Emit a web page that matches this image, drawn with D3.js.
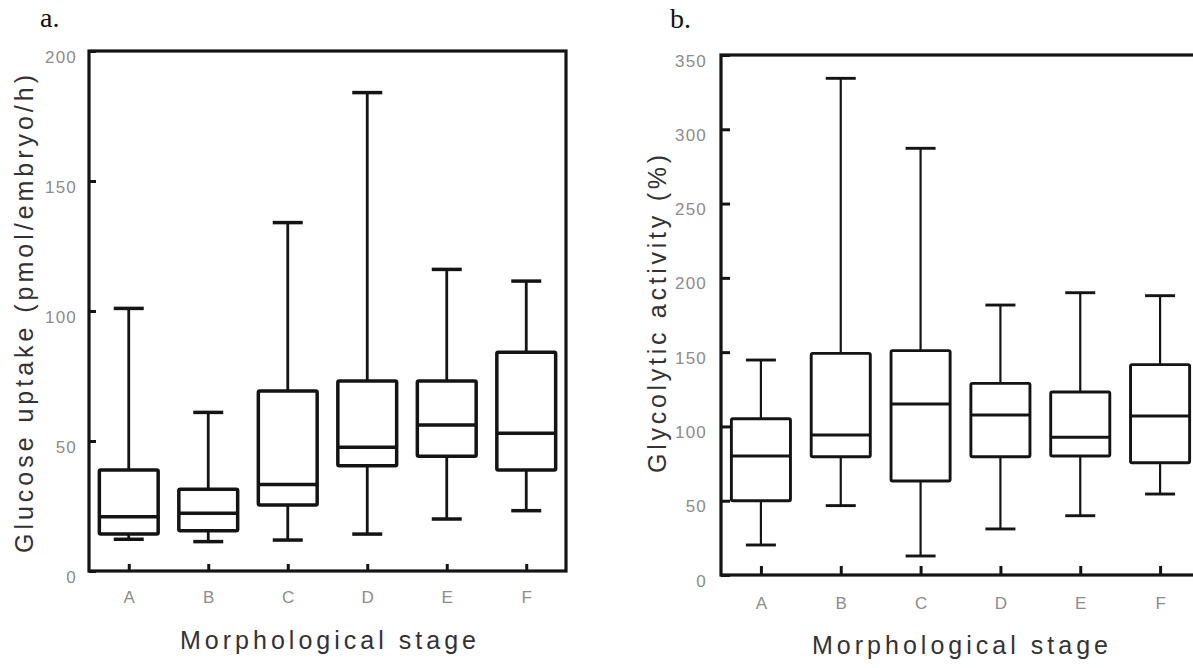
<!DOCTYPE html>
<html>
<head>
<meta charset="utf-8">
<script src="https://cdn.jsdelivr.net/npm/d3@7"></script>
<style>
  html, body { margin: 0; padding: 0; background: #fff; overflow: hidden; }
  svg { display: block; }
</style>
</head>
<body>
<svg id="chart" width="1193" height="668"></svg>
<script>
// ---------- DATA ----------
const categories = ["A", "B", "C", "D", "E", "F"];

// Panel a: Glucose uptake (pmol/embryo/h)
const glucoseMin    = [12.2, 11.3, 11.9, 14.2, 20.0, 23.2];
const glucoseQ1     = [14.2, 15.5, 25.4, 40.5, 44.1, 38.8];
const glucoseMedian = [20.9, 22.2, 33.3, 47.6, 56.2, 53.0];
const glucoseQ3     = [38.8, 31.4, 69.2, 73.1, 73.1, 84.1];
const glucoseMax    = [101, 61, 134, 184, 116, 111.5];
const glucoseTicks  = [0, 50, 100, 150, 200];

// Panel b: Glycolytic activity (%)
const glycoMin    = [20.2, 46.7, 12.8, 31.0, 39.9, 54.5];
const glycoQ1     = [50.0, 79.6, 63.3, 79.6, 80.1, 75.6];
const glycoMedian = [80.1, 94.2, 115.1, 107.7, 92.7, 107.0];
const glycoQ3     = [105.2, 149.2, 151.0, 129.0, 123.2, 141.6];
const glycoMax    = [144.7, 334.3, 287.2, 181.7, 190.0, 188.0];
const glycoTicks  = [0, 50, 100, 150, 200, 250, 300, 350];

const svg = d3.select("#chart");
const tickColor = "#8c8c8c";
const titleColor = "#333333";
const ink = "#141414";
const sans = "Liberation Sans, Arial, sans-serif";

function panel(opts) {
  const { x0, x1, y0, y1, domainMax, ticks, mins, q1s, meds, q3s, maxs,
          yTitle, yTitleLen, yTitleX, xTitleX, xTitleY, boxStroke, letter, letterX, letterY, tickIn } = opts;

  const x = d3.scalePoint().domain(categories).range([x0, x1]).padding(0.5);
  const y = d3.scaleLinear().domain([0, domainMax]).range([y1, y0]);
  const step = x.step();
  const boxW = step * 0.74;
  const capW = 30;

  const g = svg.append("g");

  const rows = categories.map((c, i) => ({ c, min: mins[i], q1: q1s[i], med: meds[i], q3: q3s[i], max: maxs[i] }));

  const boxes = g.selectAll("g.box").data(rows).join("g").attr("class", "box");
  // whiskers
  boxes.append("line")
    .attr("x1", d => x(d.c)).attr("x2", d => x(d.c))
    .attr("y1", d => y(d.max)).attr("y2", d => y(d.q3))
    .attr("stroke", ink).attr("stroke-width", boxStroke);
  boxes.append("line")
    .attr("x1", d => x(d.c)).attr("x2", d => x(d.c))
    .attr("y1", d => y(d.q1)).attr("y2", d => y(d.min))
    .attr("stroke", ink).attr("stroke-width", boxStroke);
  // caps
  boxes.append("line")
    .attr("x1", d => x(d.c) - capW / 2).attr("x2", d => x(d.c) + capW / 2)
    .attr("y1", d => y(d.max)).attr("y2", d => y(d.max))
    .attr("stroke", ink).attr("stroke-width", boxStroke + 0.7);
  boxes.append("line")
    .attr("x1", d => x(d.c) - capW / 2).attr("x2", d => x(d.c) + capW / 2)
    .attr("y1", d => y(d.min)).attr("y2", d => y(d.min))
    .attr("stroke", ink).attr("stroke-width", boxStroke + 0.7);
  // box
  boxes.append("rect")
    .attr("x", d => x(d.c) - boxW / 2).attr("width", boxW)
    .attr("y", d => y(d.q3)).attr("height", d => y(d.q1) - y(d.q3))
    .attr("rx", 1.5)
    .attr("fill", "#fff").attr("stroke", ink).attr("stroke-width", boxStroke + 0.7);
  // median
  boxes.append("line")
    .attr("x1", d => x(d.c) - boxW / 2).attr("x2", d => x(d.c) + boxW / 2)
    .attr("y1", d => y(d.med)).attr("y2", d => y(d.med))
    .attr("stroke", ink).attr("stroke-width", boxStroke + 0.7);

  // frame
  g.append("rect")
    .attr("x", x0).attr("y", y0).attr("width", x1 - x0).attr("height", y1 - y0)
    .attr("fill", "none").attr("stroke", ink).attr("stroke-width", 3.2);

  // y axis (ticks pointing inward)
  const yAxis = d3.axisLeft(y).tickValues(ticks).tickSize(-tickIn).tickPadding(tickIn + 5).tickFormat(d3.format("d"));
  const ya = g.append("g").attr("transform", `translate(${x0},0)`).call(yAxis);
  ya.select(".domain").remove();
  ya.selectAll(".tick line").attr("stroke", ink).attr("stroke-width", 3);
  ya.selectAll(".tick text")
    .attr("fill", tickColor).attr("font-family", sans)
    .attr("font-size", 17).attr("letter-spacing", 1.2).attr("dy", "0.65em");

  // x axis (ticks pointing inward)
  const xAxis = d3.axisBottom(x).tickSize(-tickIn).tickPadding(tickIn + 13);
  const xa = g.append("g").attr("transform", `translate(0,${y1})`).call(xAxis);
  xa.select(".domain").remove();
  xa.selectAll(".tick line").attr("stroke", ink).attr("stroke-width", 3);
  xa.selectAll(".tick text")
    .attr("fill", tickColor).attr("font-family", sans)
    .attr("font-size", 17);

  // axis titles
  g.append("text")
    .attr("transform", `translate(${yTitleX},314) rotate(-90)`)
    .attr("text-anchor", "middle")
    .attr("font-family", sans)
    .attr("font-size", 25).attr("fill", titleColor)
    .attr("textLength", yTitleLen).attr("lengthAdjust", "spacing")
    .text(yTitle);
  g.append("text")
    .attr("x", xTitleX).attr("y", xTitleY)
    .attr("text-anchor", "middle")
    .attr("font-family", sans)
    .attr("font-size", 25).attr("fill", titleColor)
    .attr("textLength", 296).attr("lengthAdjust", "spacing")
    .text("Morphological stage");

  // panel letter
  g.append("text")
    .attr("x", letterX).attr("y", letterY)
    .attr("font-family", "Liberation Serif, Times New Roman, serif")
    .attr("font-size", 28).attr("fill", "#111")
    .text(letter);
}

panel({
  x0: 89, x1: 566, y0: 51, y1: 571, domainMax: 200, ticks: glucoseTicks,
  mins: glucoseMin, q1s: glucoseQ1, meds: glucoseMedian, q3s: glucoseQ3, maxs: glucoseMax,
  yTitle: "Glucose uptake (pmol/embryo/h)", yTitleLen: 478, yTitleX: 33,
  xTitleX: 328, xTitleY: 649, boxStroke: 2.8, letter: "a.", letterX: 40, letterY: 27, tickIn: 7
});

panel({
  x0: 721, x1: 1200, y0: 55, y1: 575, domainMax: 350, ticks: glycoTicks,
  mins: glycoMin, q1s: glycoQ1, meds: glycoMedian, q3s: glycoQ3, maxs: glycoMax,
  yTitle: "Glycolytic activity (%)", yTitleLen: 318, yTitleX: 666,
  xTitleX: 960, xTitleY: 654, boxStroke: 2.2, letter: "b.", letterX: 670, letterY: 28, tickIn: 9
});
</script>
</body>
</html>
